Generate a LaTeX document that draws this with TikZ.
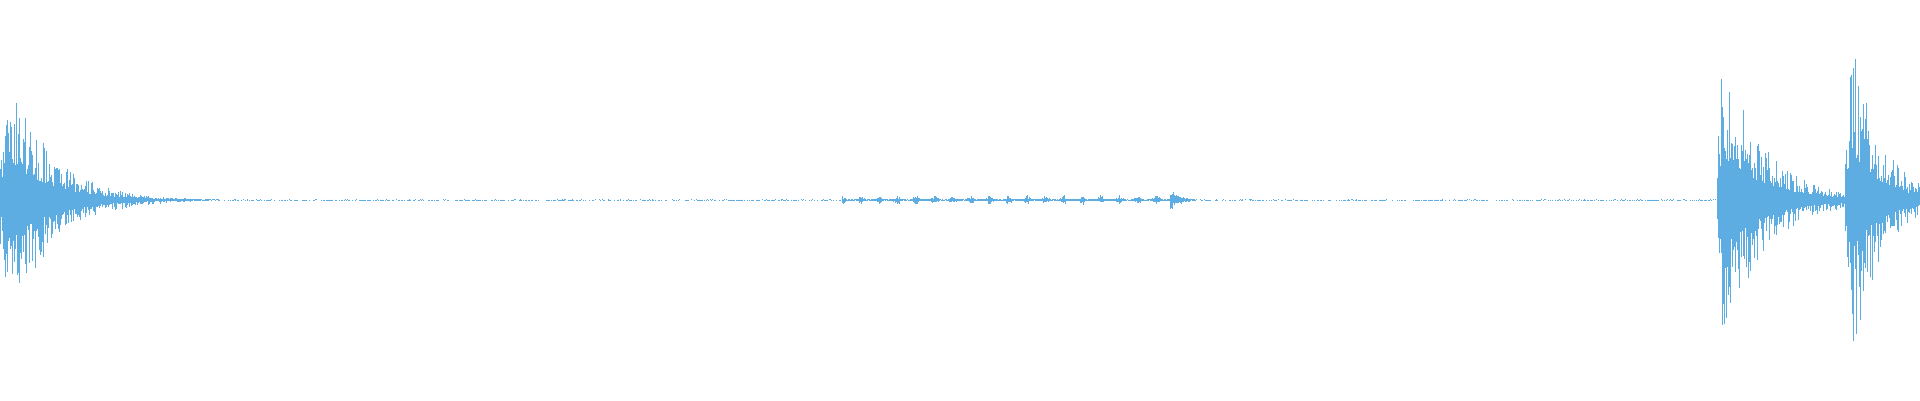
\documentclass[tikz,border=0pt]{standalone}
\definecolor{wave}{HTML}{5DADE2}
\begin{document}
\begin{tikzpicture}[x=1pt,y=1pt,wv/.style={draw=wave,line width=0.9pt}]
\useasboundingbox (0,0) rectangle (1920,400);
\pgfmathsetseed{11}
\foreach \x in {0,...,1919}{
  \pgfmathsetmacro{\dA}{min(max(\x-12,-12),300)}
  \pgfmathsetmacro{\dB}{min(max(\x-1728,-3),300)}
  \pgfmathsetmacro{\dC}{min(max(\x-1858,-3),300)}
  \pgfmathsetmacro{\dD}{min(max(\x-1171,-2),100)}
  \pgfmathsetmacro{\eA}{min(1,(\x+4)/14)*122*exp(-\dA/42)}
  \pgfmathsetmacro{\eB}{(\x>=1717)*min(1,(\x-1714)/8)*130*exp(-\dB/42)}
  \pgfmathsetmacro{\eC}{(\x>=1845)*min(1,(\x-1842)/8)*130*exp(-\dC/30)}
  \pgfmathsetmacro{\eD}{(\x>=1170)*11*exp(-\dD/10)}
  \pgfmathsetmacro{\eE}{(\x>=842)*(\x<=1170)*(1.4+3.5*abs(sin(mod(\x,37)*9.73))^8)}
  \pgfmathsetmacro{\env}{max(max(max(\eA,\eB),max(\eC,\eD)),max(\eE,0.6))}
  \pgfmathsetmacro{\ra}{\env*(0.3+0.7*rnd^1.5)}
  \pgfmathsetmacro{\rb}{\env*(0.3+0.7*rnd^1.5)}
  \pgfmathsetmacro{\skip}{(\env<0.9)*(rnd<0.4)}
  \ifdim\skip pt<0.5pt
    \draw[wv] (\x+0.5,200+\ra) -- (\x+0.5,200-\rb);
  \fi
}
\end{tikzpicture}
\end{document}
